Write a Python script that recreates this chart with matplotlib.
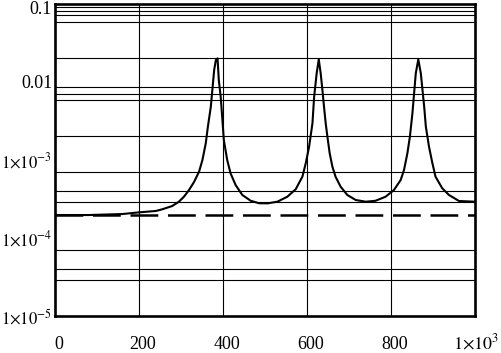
import matplotlib
matplotlib.use("Agg")
import matplotlib.pyplot as plt
import matplotlib.transforms as mtransforms
from matplotlib.ticker import NullLocator

# ---------------- data ----------------
x_curve = [0, 80, 161, 199, 240, 255, 279, 295, 307, 319, 331, 343, 351, 359,
           364, 371, 375, 379, 383, 387, 390, 394.5, 398.6, 402, 410, 418, 430,
           446, 466, 486, 506, 529.5, 553, 573, 589, 597, 605, 613, 617, 623,
           628, 632.6, 636.7, 640.5, 644.5, 648.6, 654, 660.5, 668, 680, 696,
           716, 740, 763, 787, 807, 823, 831, 839, 845, 851, 855, 859, 865,
           871, 875, 879, 883, 890.5, 898.6, 906, 922, 938, 962, 1000]
y_curve = [1.97e-4, 1.97e-4, 2.03e-4, 2.13e-4, 2.22e-4, 2.33e-4, 2.57e-4,
           2.92e-4, 3.38e-4, 4.12e-4, 5.22e-4, 7.08e-4, 1.0e-3, 1.64e-3,
           2.67e-3, 4.82e-3, 8.3e-3, 1.43e-2, 1.91e-2, 2.01e-2, 1.06e-2,
           6.48e-3, 3.26e-3, 1.80e-3, 1.0e-3, 6.75e-4, 4.78e-4, 3.56e-4,
           3.0e-4, 2.79e-4, 2.78e-4, 2.92e-4, 3.38e-4, 4.21e-4, 6.11e-4,
           9.08e-4, 1.48e-3, 2.96e-3, 6.48e-3, 1.29e-2, 1.95e-2, 1.29e-2,
           7.89e-3, 4.82e-3, 2.96e-3, 1.99e-3, 1.22e-3, 8.2e-4, 6.11e-4,
           4.55e-4, 3.56e-4, 3.07e-4, 2.92e-4, 3.0e-4, 3.38e-4, 4.12e-4,
           5.54e-4, 7.45e-4, 1.22e-3, 1.99e-3, 3.97e-3, 7.16e-3, 1.29e-2,
           1.95e-2, 1.29e-2, 7.89e-3, 4.82e-3, 2.67e-3, 1.48e-3, 9.08e-4,
           6.11e-4, 4.34e-4, 3.56e-4, 2.98e-4, 2.92e-4]

x_base = [0, 1000]
y_base = [1.97e-4, 1.97e-4]

x_ticks = [0, 200, 400, 600, 800, 1000]
x_ticklabels = ["0", "200", "400", "600", "800", r"$1{\times}10^{3}$"]
y_ticks = [1e-5, 1e-4, 1e-3, 1e-2, 1e-1]
y_ticklabels = [r"$1{\times}10^{-5}$", r"$1{\times}10^{-4}$",
                r"$1{\times}10^{-3}$", "0.01", "0.1"]

x_grid = [200, 400, 600, 800]
y_grid = [0.0907, 0.0813, 0.0729, 0.0582, 0.0201, 0.00871, 0.00695, 0.00588,
          0.00203, 6.95e-4, 4.0e-4, 2.87e-4, 6.95e-5, 3.97e-5, 2.87e-5]

# ---------------- style ----------------
plt.rcParams["font.family"] = ["Liberation Serif", "DejaVu Serif"]
plt.rcParams["mathtext.fontset"] = "stix"
plt.rcParams["lines.scale_dashes"] = False

fig = plt.figure(figsize=(5.01, 3.53), dpi=100)
ax = fig.add_axes([55 / 501, 1 - 316 / 353, 420 / 501, 312 / 353])

ax.set_yscale("log")
ax.set_xlim(0, 1000)
ax.set_ylim(1e-5, 0.1)

for gx in x_grid:
    ax.axvline(gx, color="black", lw=0.8, zorder=1)
for gy in y_grid:
    ax.axhline(gy, color="black", lw=0.8, zorder=1)

ax.plot(x_base, y_base, color="black", lw=1.8, dashes=(20, 7), zorder=2)
ax.plot(x_curve, y_curve, color="black", lw=1.5, zorder=3)

ax.set_xticks(x_ticks)
ax.set_xticklabels(x_ticklabels)
ax.set_yticks(y_ticks)
ax.set_yticklabels(y_ticklabels)
ax.yaxis.set_minor_locator(NullLocator())
ax.xaxis.set_minor_locator(NullLocator())
ax.tick_params(axis="both", length=0, labelsize=13)
ax.tick_params(axis="x", pad=24)
ax.tick_params(axis="y", pad=2)

dpi_tr = fig.dpi_scale_trans
xlabs = ax.get_xticklabels()
for i, lab in enumerate(xlabs):
    lab.set_verticalalignment("baseline")
    dx = 4 if i < len(xlabs) - 1 else 1
    lab.set_transform(lab.get_transform()
                      + mtransforms.ScaledTranslation(dx / 100, 0, dpi_tr))

ylabs = ax.get_yticklabels()
for lab in ylabs[:3]:
    lab.set_fontsize(12)
top_lab = ylabs[-1]
top_lab.set_transform(top_lab.get_transform()
                      + mtransforms.ScaledTranslation(0, -3 / 100, dpi_tr))

for sp in ax.spines.values():
    sp.set_linewidth(1.9)
    sp.set_color("black")
    sp.set_zorder(5)

fig.savefig("out.png", dpi=100)
